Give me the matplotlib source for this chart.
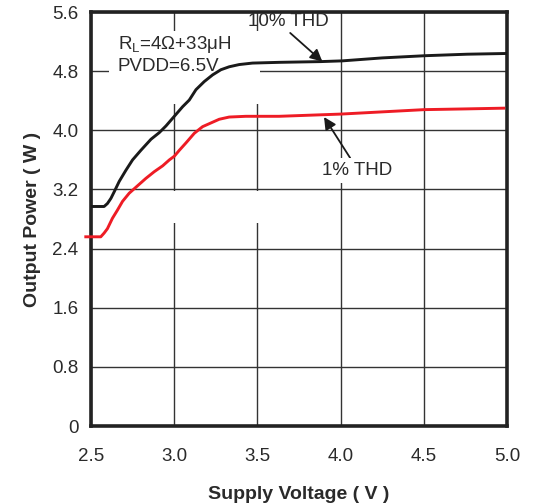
import numpy as np
import matplotlib
matplotlib.use('Agg')
import matplotlib.pyplot as plt
from matplotlib.patches import Rectangle

plt.rcParams['font.family'] = ['Liberation Sans', 'DejaVu Sans']

# 10% THD curve (black)
v_10 = [2.50, 2.578, 2.598, 2.619, 2.639, 2.669, 2.709, 2.749, 2.799, 2.86, 2.91, 2.95, 3.00, 3.05, 3.09,
        3.13, 3.18, 3.23, 3.28, 3.33, 3.39, 3.47, 3.63, 3.88, 4.01, 4.25, 4.51, 4.76, 5.00]
p_10 = [2.97, 2.97, 3.01, 3.08, 3.17, 3.31, 3.46, 3.60, 3.73, 3.88, 3.97, 4.06, 4.19, 4.32, 4.41,
        4.55, 4.66, 4.75, 4.82, 4.86, 4.89, 4.91, 4.92, 4.93, 4.94, 4.98, 5.01, 5.03, 5.04]

# 1% THD curve (red)
v_1 = [2.468, 2.558, 2.578, 2.598, 2.628, 2.658, 2.689, 2.729, 2.779, 2.829, 2.879, 2.93, 2.97, 3.00,
       3.03, 3.07, 3.12, 3.17, 3.22, 3.27, 3.33, 3.43, 3.63, 4.00, 4.25, 4.50, 4.75, 4.98]
p_1 = [2.56, 2.56, 2.61, 2.67, 2.81, 2.92, 3.04, 3.15, 3.25, 3.35, 3.44, 3.52, 3.60, 3.65,
       3.73, 3.83, 3.96, 4.05, 4.10, 4.15, 4.18, 4.19, 4.19, 4.22, 4.25, 4.28, 4.29, 4.30]

xticks = [2.5, 3.0, 3.5, 4.0, 4.5, 5.0]
xlabels = ['2.5', '3.0', '3.5', '4.0', '4.5', '5.0']
yticks = [0, 0.8, 1.6, 2.4, 3.2, 4.0, 4.8, 5.6]
ylabels = ['0', '0.8', '1.6', '2.4', '3.2', '4.0', '4.8', '5.6']

txt = '#2a2a2a'

fig = plt.figure(figsize=(5.36, 5.03), dpi=100)
ax = fig.add_axes([0.170, 0.153, 0.776, 0.823])

ax.set_xlim(2.5, 5.0)
ax.set_ylim(0, 5.6)
ax.set_xticks(xticks)
ax.set_xticklabels(xlabels)
ax.set_yticks(yticks)
ax.set_yticklabels(ylabels)
ax.tick_params(length=0, labelsize=13.5, labelcolor=txt)
ax.tick_params(axis='x', pad=16)
ax.tick_params(axis='y', pad=9)
ax.grid(True, color='#333333', linewidth=1.0)
ax.set_axisbelow(True)
for s in ax.spines.values():
    s.set_linewidth(2.6)
    s.set_color('#222222')

# white areas that hide parts of the grid
ax.add_patch(Rectangle((2.61, 4.36), 0.905, 0.98, facecolor='white', edgecolor='none', zorder=1))
ax.add_patch(Rectangle((2.9, 2.75), 0.7, 0.43, facecolor='white', edgecolor='none', zorder=1))

ax.plot(v_10, p_10, color='#1a1a1a', linewidth=2.1, zorder=3, solid_joinstyle='round')
ax.plot(v_1, p_1, color='#ee1c25', linewidth=2.1, zorder=3, clip_on=False, solid_joinstyle='round')

ax.text(2.66, 5.16, 'R$_{\\mathregular{L}}$=4\u03a9+33\u03bcH', fontsize=13.5, color=txt, va='center', zorder=4)
ax.text(2.66, 4.86, 'PVDD=6.5V', fontsize=13.5, color=txt, va='center', zorder=4)

ax.annotate('10% THD', xy=(3.89, 4.93), xytext=(3.44, 5.47), fontsize=13.5, color=txt,
            va='center', ha='left', zorder=4,
            arrowprops=dict(arrowstyle='-|>', color='#1a1a1a', lw=1.3, mutation_scale=18,
                            shrinkA=0, shrinkB=0, relpos=(0.49, 0.0)))
ax.annotate('1% THD', xy=(3.90, 4.18), xytext=(3.89, 3.46), fontsize=13.5, color=txt,
            va='center', ha='left', zorder=4,
            bbox=dict(boxstyle='square,pad=0.2', facecolor='white', edgecolor='none'),
            arrowprops=dict(arrowstyle='-|>', color='#1a1a1a', lw=1.3, mutation_scale=18,
                            shrinkA=0, shrinkB=0, relpos=(0.43, 1.0)))

ax.set_xlabel('Supply Voltage ( V )', fontsize=14, fontweight='bold', color=txt, labelpad=15)
ax.set_ylabel('Output Power ( W )', fontsize=14, fontweight='bold', color=txt, labelpad=8)

fig.savefig('out.png', dpi=100)
